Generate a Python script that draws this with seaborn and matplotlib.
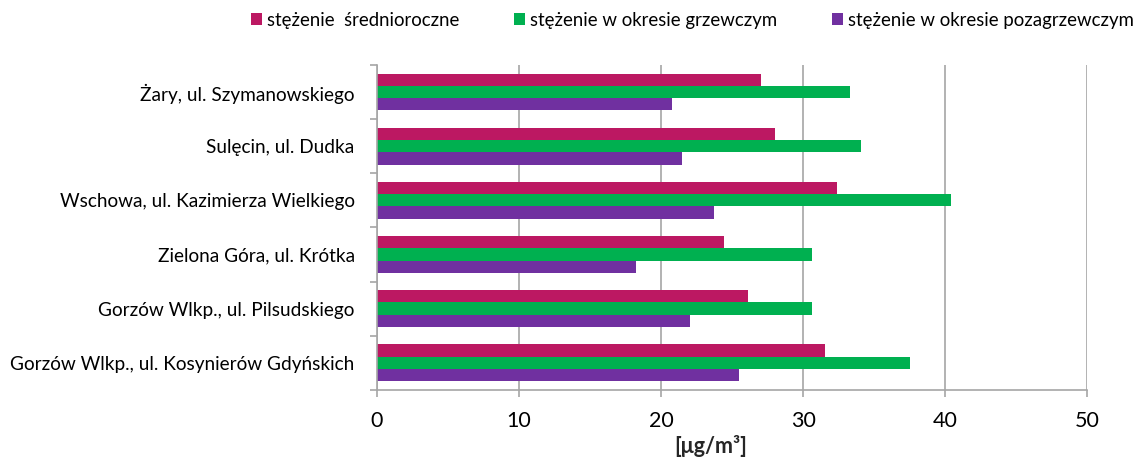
import numpy as np
import pandas as pd
import seaborn as sns
import matplotlib.pyplot as plt
from matplotlib.ticker import MultipleLocator, FixedLocator

stations = [
    "Żary, ul. Szymanowskiego",
    "Sulęcin, ul. Dudka",
    "Wschowa, ul. Kazimierza Wielkiego",
    "Zielona Góra, ul. Krótka",
    "Gorzów Wlkp., ul. Pilsudskiego",
    "Gorzów Wlkp., ul. Kosynierów Gdyńskich",
]
series = ["stężenie  średnioroczne", "stężenie w okresie grzewczym", "stężenie w okresie pozagrzewczym"]
annual = [27.0, 28.0, 32.4, 24.4, 26.1, 31.5]
heating = [33.3, 34.1, 40.4, 30.6, 30.6, 37.5]
non_heating = [20.8, 21.5, 23.7, 18.2, 22.0, 25.5]
colors = ["#BC1862", "#00B050", "#7030A0"]

df = pd.DataFrame({
    "station": stations * 3,
    "series": [series[0]] * 6 + [series[1]] * 6 + [series[2]] * 6,
    "value": annual + heating + non_heating,
})

sns.set_style("white")
plt.rcParams["font.family"] = ["Lato", "DejaVu Sans"]
plt.rcParams["text.color"] = "black"
plt.rcParams["xtick.color"] = "black"
plt.rcParams["ytick.color"] = "black"

fig = plt.figure(figsize=(11.44, 4.57), dpi=100)
ax = fig.add_axes([0.3295, 0.147, 0.621, 0.711])

sns.barplot(data=df, x="value", y="station", hue="series", order=stations,
            hue_order=series, palette=colors, saturation=1, orient="h",
            width=0.68, linewidth=0, ax=ax)

ax.set_xlim(0, 50)
ax.set_ylim(5.5, -0.5)
ax.xaxis.set_major_locator(MultipleLocator(10))
ax.grid(axis="x", color="#A6A6A6", linewidth=1.2)
ax.set_axisbelow(True)

for s in ["top", "right"]:
    ax.spines[s].set_visible(False)
for s in ["left", "bottom"]:
    ax.spines[s].set_color("#A6A6A6")
    ax.spines[s].set_linewidth(1.2)

# category separators as minor ticks on the left spine
ax.yaxis.set_minor_locator(FixedLocator(np.arange(-0.5, 6.0, 1.0)))
ax.tick_params(axis="y", which="major", length=0, labelsize=13.7, pad=16)
ax.tick_params(axis="y", which="minor", left=True, length=5, color="#A6A6A6", width=1.2)
ax.tick_params(axis="x", which="major", bottom=True, length=5, color="#A6A6A6",
               width=1.2, labelsize=15.5, pad=10)

ax.set_ylabel("")
ax.set_xlabel("[μg/m³]", fontsize=15.5, fontweight="bold")
ax.xaxis.set_label_coords(0.47, -0.14)

ax.legend(loc="center", bbox_to_anchor=(0.444, 1.138), ncol=3, frameon=False,
          fontsize=13.4, handlelength=0.6, handleheight=0.6, handletextpad=0.3,
          columnspacing=2.9)

fig.savefig("out.png", dpi=100)
